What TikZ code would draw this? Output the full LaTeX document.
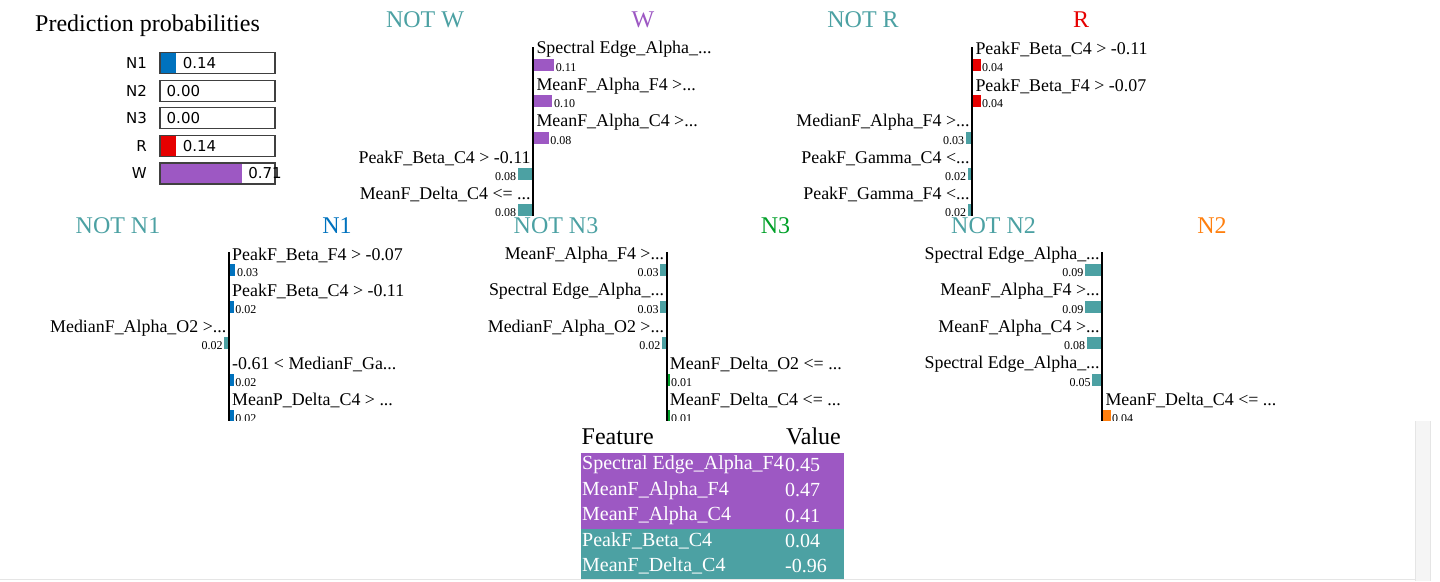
\documentclass[tikz,border=0pt]{standalone}
\usepackage{fontspec}
\setmainfont{Liberation Serif}
\newfontfamily\probfont{DejaVu Sans}
\usepackage{xcolor}
\usepackage{tikz}

\definecolor{notcol}{RGB}{76,161,163}
\definecolor{wcol}{RGB}{157,88,195}
\definecolor{rcol}{RGB}{230,0,0}
\definecolor{nonecol}{RGB}{0,114,190}
\definecolor{ntwocol}{RGB}{255,127,14}
\definecolor{nthreecol}{RGB}{0,160,40}

\tikzset{
  ttl/.style={font=\fontsize{24}{28}\selectfont},
  featlbl/.style={font=\fontsize{17.9}{20}\selectfont},
  featval/.style={font=\fontsize{12}{14}\selectfont},
  problbl/.style={font=\probfont\fontsize{15}{18}\selectfont},
  probbox/.style={draw=black!75, line width=1.2pt},
  axisline/.style={line width=2.2pt},
  rowtxt/.style={text=white, font=\fontsize{20}{24}\selectfont}
}

% bar to the right / left of an axis: name, axis x, label y, label, value, colour
\newcommand\featR[6]{%
  \fill[#6] (#2,#3+9) rectangle ++(#5*180+1,12);
  \node[featlbl, anchor=west] (#1) at (#2+3,#3) {#4};
  \node[featval, anchor=west] (#1v) at (#2+#5*180+2.5,#3+18) {#5};
}
\newcommand\featL[6]{%
  \fill[#6] (#2,#3+9) rectangle ++(-#5*180-1,12);
  \node[featlbl, anchor=east] (#1) at (#2-2.5,#3) {#4};
  \node[featval, anchor=east] (#1v) at (#2-#5*180-2.5,#3+18) {#5};
}

\begin{document}
\begin{tikzpicture}[x=1pt,y=-1pt]
\tikzstyle{every node}+=[inner sep=0pt]
\useasboundingbox (0,0) rectangle (1440,581);

\node[ttl, anchor=west] (probttl) at (35,26) {Prediction probabilities};
\foreach \cls/\val/\col [count=\i from 0] in {N1/0.14/nonecol, N2/0.00/white, N3/0.00/white, R/0.14/rcol, W/0.71/wcol} {
  \fill[\col] (160,63+27.6*\i-10.5) rectangle ++(\val*115,21);
  \draw[probbox] (160,63+27.6*\i-10.5) rectangle ++(115,21);
  \node[problbl, anchor=east] (p\cls) at (147,63+27.6*\i) {\cls};
  \node[problbl, anchor=west] (p\cls v) at (160+\val*115+6.5,63+27.6*\i) {\val};
}

\begin{scope}
\clip (300,0) rectangle (1440,215.5);
\node[ttl, text=notcol] (notw) at (425,20) {NOT W};
\node[ttl, text=wcol] (w) at (643,20) {W};
\featR{w1}{533.3}{49.5}{Spectral Edge\_Alpha\_...}{0.11}{wcol}
\featR{w2}{533.3}{86}{MeanF\_Alpha\_F4 >...}{0.10}{wcol}
\featR{w3}{533.3}{122.5}{MeanF\_Alpha\_C4 >...}{0.08}{wcol}
\featL{w4}{533.3}{158.5}{PeakF\_Beta\_C4 > -0.11}{0.08}{notcol}
\featL{w5}{533.3}{194.5}{MeanF\_Delta\_C4 <= ...}{0.08}{notcol}
\draw[axisline] (533.3,47) -- (533.3,216);

\node[ttl, text=notcol] (notr) at (863,20) {NOT R};
\node[ttl, text=rcol] (r) at (1081,20) {R};
\featR{r1}{972.3}{49.5}{PeakF\_Beta\_C4 > -0.11}{0.04}{rcol}
\featR{r2}{972.3}{86}{PeakF\_Beta\_F4 > -0.07}{0.04}{rcol}
\featL{r3}{972.3}{122.5}{MedianF\_Alpha\_F4 >...}{0.03}{notcol}
\featL{r4}{972.3}{158.5}{PeakF\_Gamma\_C4 <...}{0.02}{notcol}
\featL{r5}{972.3}{194.5}{PeakF\_Gamma\_F4 <...}{0.02}{notcol}
\draw[axisline] (972.3,47) -- (972.3,216);
\end{scope}

\begin{scope}
\clip (0,215.5) rectangle (1440,420);
\node[ttl, text=notcol] (notnone) at (118,226) {NOT N1};
\node[ttl, text=nonecol] (none) at (337,226) {N1};
\featR{a1}{229}{255}{PeakF\_Beta\_F4 > -0.07}{0.03}{nonecol}
\featR{a2}{229}{291.5}{PeakF\_Beta\_C4 > -0.11}{0.02}{nonecol}
\featL{a3}{229}{328}{MedianF\_Alpha\_O2 >...}{0.02}{notcol}
\featR{a4}{229}{364.5}{-0.61 < MedianF\_Ga...}{0.02}{nonecol}
\featR{a5}{229}{400.5}{MeanP\_Delta\_C4 > ...}{0.02}{nonecol}
\draw[axisline] (229,252) -- (229,421);

\node[ttl, text=notcol] (notnthree) at (556,226) {NOT N3};
\node[ttl, text=nthreecol] (nthree) at (775.5,226) {N3};
\featL{c1}{666.7}{255}{MeanF\_Alpha\_F4 >...}{0.03}{notcol}
\featL{c2}{666.7}{291.5}{Spectral Edge\_Alpha\_...}{0.03}{notcol}
\featL{c3}{666.7}{328}{MedianF\_Alpha\_O2 >...}{0.02}{notcol}
\featR{c4}{666.7}{364.5}{MeanF\_Delta\_O2 <= ...}{0.01}{nthreecol}
\featR{c5}{666.7}{400.5}{MeanF\_Delta\_C4 <= ...}{0.01}{nthreecol}
\draw[axisline] (666.7,252) -- (666.7,421);

\node[ttl, text=notcol] (notntwo) at (993.5,226) {NOT N2};
\node[ttl, text=ntwocol] (ntwo) at (1212,226) {N2};
\featL{b1}{1102.3}{255}{Spectral Edge\_Alpha\_...}{0.09}{notcol}
\featL{b2}{1102.3}{291.5}{MeanF\_Alpha\_F4 >...}{0.09}{notcol}
\featL{b3}{1102.3}{328}{MeanF\_Alpha\_C4 >...}{0.08}{notcol}
\featL{b4}{1102.3}{364.5}{Spectral Edge\_Alpha\_...}{0.05}{notcol}
\featR{b5}{1102.3}{400.5}{MeanF\_Delta\_C4 <= ...}{0.04}{ntwocol}
\draw[axisline] (1102.3,252) -- (1102.3,421);
\end{scope}

\fill[wcol] (581,452.7) rectangle (844,529.3);
\fill[notcol] (581,529.3) rectangle (844,579.3);
\node[ttl, anchor=west] (feathd) at (581.5,436.7) {Feature};
\node[ttl, anchor=west] (valhd) at (786,436.7) {Value};
\foreach \feat/\fval [count=\i from 0] in {Spectral Edge\_Alpha\_F4/0.45, MeanF\_Alpha\_F4/0.47, MeanF\_Alpha\_C4/0.41, PeakF\_Beta\_C4/0.04, MeanF\_Delta\_C4/-0.96} {
  \node[rowtxt, anchor=west] (row\i) at (582,465+25.3*\i) {\feat};
  \node[rowtxt, anchor=west] (row\i v) at (785,465+25.3*\i) {\fval};
}

\fill[black!4] (1415,421) rectangle (1430,581);
\draw[black!10, line width=0.8pt] (1415,421) -- (1415,581);
\draw[black!10, line width=0.8pt] (1430,421) -- (1430,581);
\draw[black!10, line width=0.8pt] (0,579.5) -- (1415,579.5);
\end{tikzpicture}
\end{document}
